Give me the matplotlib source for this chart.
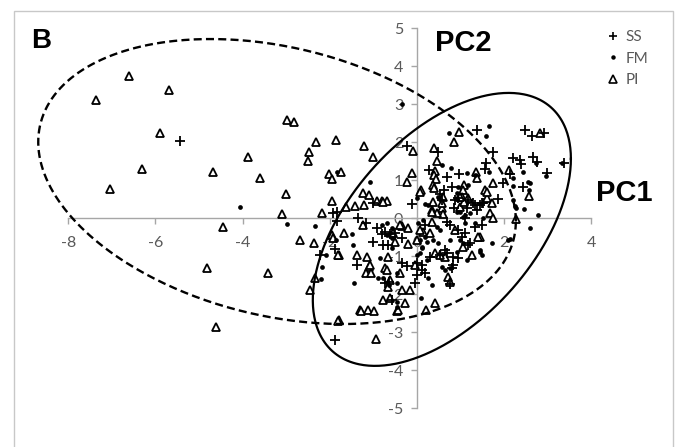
import numpy as np
import matplotlib
matplotlib.use("Agg")
import matplotlib.pyplot as plt
from matplotlib.lines import Line2D
from matplotlib.patches import Rectangle

# PCA scores (PC1, PC2) for the three groups
ss_points = [
    [-5.44, 2.03], [-1.93, 0.14], [-1.01, 0.39], [-1.35, 0.00], [-1.88, -3.21],
    [-0.23, 1.89], [0.48, 1.74], [0.28, 1.26], [0.96, 1.16], [0.69, 1.08],
    [0.62, 0.74], [0.80, 0.82], [-0.11, 0.37], [0.57, 0.47], [0.87, 0.47],
    [0.85, 0.26], [1.38, 2.32], [2.48, 2.32], [2.64, 2.16], [2.91, 2.24],
    [1.74, 1.74], [1.58, 1.45], [1.56, 1.29], [2.20, 1.58], [2.36, 1.53],
    [2.39, 1.42], [2.66, 1.61], [2.75, 1.47], [3.37, 1.45], [2.13, 1.16],
    [2.98, 1.18], [2.43, 0.82], [1.97, 0.92], [1.86, 0.50], [1.49, 0.39],
    [1.33, 0.34], [1.38, 0.21], [-1.88, -0.82], [-1.38, -1.24], [-1.01, -0.63],
    [-2.22, -0.97], [-1.83, -0.08], [-1.17, -0.13], [-0.92, -0.26], [-0.73, -0.37],
    [-0.78, -0.71], [-0.73, -1.71], [-0.57, -2.16], [-0.80, -0.42], [-0.62, -0.42],
    [-0.50, -0.39], [-0.34, -1.18], [-0.23, -1.26], [-0.64, -1.68], [0.00, -1.18],
    [0.11, -1.37], [0.00, -1.50], [0.18, -1.45], [-0.05, -1.71], [0.30, -1.03],
    [0.53, -0.97], [0.69, -0.92], [0.83, -1.03], [0.80, -1.32], [0.76, -1.74],
    [0.18, -0.18], [0.69, -0.11], [0.76, -0.18], [0.64, -0.84], [0.11, -1.24],
    [0.83, -1.24], [1.03, -0.50], [1.17, -0.71], [0.53, 0.63], [-0.34, -0.53],
    [-0.66, -0.71], [0.94, 0.53], [1.17, 0.47], [1.28, 0.39], [1.51, 0.39],
    [1.44, 0.34], [1.15, 0.26], [1.33, -0.24], [1.49, -0.18], [0.94, -0.32],
    [1.10, -0.39], [1.22, -0.66], [0.94, -1.05], [1.10, 0.00], [-1.83, 0.16],
]

fm_points = [
    [-4.06, 0.29], [-1.83, 1.21], [-1.08, 0.95], [-2.98, -0.16], [-2.34, -0.21],
    [-2.09, -0.97], [-2.18, -1.29], [-2.20, -1.60], [-0.34, 3.00], [0.73, 2.24],
    [0.57, 1.39], [0.78, 1.32], [1.15, 1.18], [1.65, 2.42], [1.58, 2.16],
    [1.65, 1.21], [2.73, 1.45], [3.33, 1.45], [2.43, 1.21], [2.96, 1.11],
    [2.55, 0.95], [2.59, 0.92], [2.20, 0.84], [2.57, 0.74], [2.78, 0.08],
    [2.20, 0.47], [2.25, 0.32], [2.27, 0.26], [0.18, 0.37], [0.25, 0.34],
    [0.00, 0.53], [-1.49, -0.42], [-1.47, -0.71], [-1.86, -0.58], [-1.44, -1.71],
    [-0.80, -0.18], [-0.57, -0.26], [-0.62, -0.39], [-0.57, -0.53], [-0.85, -1.05],
    [-0.89, -1.58], [-0.78, -1.58], [0.09, -2.11], [0.34, -1.76], [1.44, -0.84],
    [1.49, -0.97], [1.72, -0.66], [2.13, -0.55], [2.59, -0.26], [-0.46, -2.21],
    [-0.46, -2.34], [-0.69, -0.13], [0.18, -0.50], [0.11, -0.79], [0.23, -0.63],
    [0.07, -0.92], [0.57, -1.29], [0.64, -1.37], [0.76, -1.32], [0.25, -1.58],
    [-0.46, -1.45], [-0.64, -1.76], [-0.46, -1.71], [0.48, 0.55], [0.92, 0.16],
    [1.06, 0.03], [1.10, -0.13], [0.14, -0.05], [0.02, -0.13], [0.46, -0.24],
    [0.53, -0.32], [0.37, -0.58], [0.48, -0.66], [0.07, -0.58], [0.11, -0.76],
    [0.76, -0.58], [0.92, -0.89], [-0.69, -0.45], [-0.57, -0.79], [0.00, -0.97],
    [0.23, -1.11], [1.15, -1.11], [0.99, 0.16], [1.10, 0.08], [1.22, 0.13],
    [1.51, 0.00], [1.33, -0.13], [2.09, -0.58], [0.99, -0.58], [1.06, -0.66],
    [1.44, -0.89], [0.92, 0.53], [1.33, 1.13], [0.94, 0.82], [0.92, 0.66],
    [1.17, 0.87], [2.20, 1.05], [2.45, 0.24],
]

pi_points = [
    [-6.61, 3.74], [-7.36, 3.11], [-5.69, 3.37], [-2.98, 2.58], [-2.82, 2.53],
    [-5.89, 2.24], [-2.32, 2.00], [-1.86, 2.05], [-2.48, 1.74], [-2.50, 1.50],
    [-3.88, 1.60], [-6.31, 1.29], [-4.68, 1.21], [-3.60, 1.06], [-7.04, 0.76],
    [-2.02, 1.16], [-1.95, 1.03], [-1.74, 1.21], [-3.00, 0.63], [-3.10, 0.11],
    [-2.18, 0.14], [-1.95, 0.45], [-4.45, -0.23], [-2.68, -0.58], [-2.36, -0.65],
    [-4.82, -1.32], [-3.42, -1.44], [-4.61, -2.86], [-2.34, -1.58], [-2.45, -1.89],
    [-1.22, 1.89], [-1.01, 1.61], [-1.24, 0.66], [-1.10, 0.61], [-1.63, 0.29],
    [-1.42, 0.32], [-1.22, 0.34], [-1.95, -0.45], [-1.67, -0.39], [-1.79, -0.97],
    [-1.38, -0.97], [-1.15, -1.03], [-1.10, -1.29], [-1.17, -1.45], [-1.06, -1.45],
    [-1.31, -2.42], [-1.12, -2.42], [-1.79, -2.68], [-1.24, -0.18], [-0.92, 0.45],
    [-0.80, 0.45], [-0.69, 0.45], [0.96, 2.26], [0.85, 2.00], [-0.09, 1.76],
    [0.39, 1.84], [0.46, 1.50], [0.41, 1.24], [0.39, 1.13], [0.44, 1.03],
    [-0.11, 1.18], [-0.23, 0.95], [0.37, 0.87], [0.39, 0.79], [1.08, 0.87],
    [1.06, 0.74], [0.09, 0.74], [0.60, 0.55], [1.03, 0.55], [1.17, 0.53],
    [0.37, 0.42], [0.34, 0.21], [0.57, 0.26], [0.60, 0.11], [0.99, 0.29],
    [1.08, 0.42], [0.46, 0.13], [2.82, 2.24], [1.35, 1.21], [1.38, 1.05],
    [2.11, 1.26], [2.57, 0.58], [1.74, 0.92], [1.56, 0.74], [1.61, 0.53],
    [1.72, 0.39], [1.67, 0.13], [-0.34, -0.21], [-0.21, -0.26], [-0.50, -0.63],
    [-0.21, -0.68], [-1.93, -0.53], [-1.81, -0.97], [-0.73, -1.32], [-1.08, -1.24],
    [-0.62, -1.63], [-0.67, -1.82], [-0.78, -2.16], [-0.62, -2.11], [-1.28, -2.45],
    [-0.99, -2.45], [-0.46, -2.45], [-0.27, -2.24], [0.21, -2.42], [0.41, -2.24],
    [-1.81, -2.71], [-0.94, -3.19], [0.71, -1.55], [0.76, -1.68], [1.26, -0.97],
    [1.06, -0.76], [1.44, -0.50], [2.26, -0.02], [-0.69, -1.37], [-0.39, -1.45],
    [-0.34, -1.90], [-0.16, -1.90], [-0.44, -2.42], [-0.66, -1.03], [-0.05, -1.24],
    [0.41, -0.92], [0.64, -1.03], [0.14, -0.37], [-0.78, 0.42], [0.07, 0.68],
    [0.34, 0.16], [0.57, 0.39], [0.99, 0.55], [0.34, -0.11], [-0.39, -0.18],
    [0.00, -0.58], [0.07, -0.32], [-0.55, -0.39], [0.30, -0.39], [0.87, -0.32],
    [0.53, -0.97], [1.61, 0.68], [1.74, 0.00], [1.40, -0.50],
]

group_labels = ["SS", "FM", "PI"]

# Confidence ellipses: centre and covariance-like shape matrix (PC1, PC2)
pi_ellipse_center = [-3.21, 0.96]
pi_ellipse_shape = [[30.0, -5.7], [-5.7, 14.06]]
ssfm_ellipse_center = [0.57, -0.30]
ssfm_ellipse_shape = [[8.76, 5.5], [5.5, 12.9]]

x_ticks = [-8, -6, -4, -2, 0, 2, 4]
y_ticks = [-5, -4, -3, -2, -1, 0, 1, 2, 3, 4, 5]

W, H = 676, 447
fig = plt.figure(figsize=(W / 100, H / 100), dpi=100)
fig.patch.set_facecolor("white")

# outer chart frame
fig.patches.append(Rectangle((14 / W, -0.05), (673 - 14) / W, 1.05 - 11 / H,
                             transform=fig.transFigure, fill=False,
                             edgecolor="#c8c8c8", linewidth=1.0))

ax = fig.add_axes([0, 0, 1, 1])
ax.set_facecolor("none")
ax.set_xlim(-417 / 43.6, (W - 417) / 43.6)
ax.set_ylim((218 - H) / 38.0, 218 / 38.0)

axis_grey = "#a6a6a6"
label_grey = "#595959"
for side in ("top", "right"):
    ax.spines[side].set_visible(False)
ax.spines["left"].set_position(("data", 0))
ax.spines["bottom"].set_position(("data", 0))
ax.spines["left"].set_bounds(-5, 5)
ax.spines["bottom"].set_bounds(-8, 4)
for side in ("left", "bottom"):
    ax.spines[side].set_color(axis_grey)
    ax.spines[side].set_linewidth(1.0)

ax.set_xticks(x_ticks)
ax.set_yticks(y_ticks)
ax.set_xticklabels([str(t) for t in x_ticks])
ax.set_yticklabels([str(t) for t in y_ticks])
ax.tick_params(axis="x", direction="out", length=4, width=1, color=axis_grey,
               pad=9, labelsize=11.5, labelcolor=label_grey)
ax.tick_params(axis="y", direction="out", length=4, width=1, color=axis_grey,
               pad=6, labelsize=11.5, labelcolor=label_grey)
for lab in ax.get_xticklabels() + ax.get_yticklabels():
    lab.set_fontfamily("Lato")

ss = np.array(ss_points)
fm = np.array(fm_points)
pi = np.array(pi_points)

ax.plot(pi[:, 0], pi[:, 1], linestyle="none", marker="^", ms=6.4,
        mfc="white", mec="black", mew=1.3, zorder=3, clip_on=False)
ax.plot(ss[:, 0], ss[:, 1], linestyle="none", marker="+", ms=6.5,
        mec="black", mew=1.3, zorder=4, clip_on=False)
ax.plot(fm[:, 0], fm[:, 1], linestyle="none", marker="o", ms=3.4,
        mfc="black", mec="black", mew=0, zorder=4, clip_on=False)


def ellipse_path(center, shape, n=400):
    t = np.linspace(0, 2 * np.pi, n)
    L = np.linalg.cholesky(np.array(shape))
    pts = L @ np.vstack([np.cos(t), np.sin(t)])
    return center[0] + pts[0], center[1] + pts[1]


ex, ey = ellipse_path(pi_ellipse_center, pi_ellipse_shape)
ax.plot(ex, ey, color="black", lw=1.7, linestyle=(0, (3.4, 1.8)), zorder=5,
        clip_on=False)
ex, ey = ellipse_path(ssfm_ellipse_center, ssfm_ellipse_shape)
ax.plot(ex, ey, color="black", lw=1.6, linestyle="-", zorder=5, clip_on=False)

# legend
handles = [
    Line2D([], [], linestyle="none", marker="+", ms=5.5, mec="black", mew=1.2),
    Line2D([], [], linestyle="none", marker="o", ms=3.2, mfc="black", mec="black", mew=0),
    Line2D([], [], linestyle="none", marker="^", ms=5.5, mfc="white", mec="black", mew=1.2),
]
leg = ax.legend(handles, group_labels, loc="upper left",
                bbox_to_anchor=(607 / W, 1 - 30 / H), bbox_transform=fig.transFigure,
                frameon=False, borderpad=0, borderaxespad=0, handlelength=0.8,
                handletextpad=0.4, labelspacing=0.5,
                prop={"family": "Lato", "size": 11})
for txt in leg.get_texts():
    txt.set_color(label_grey)

# panel letter and axis titles
fig.text(31 / W, 1 - 41 / H, "B", fontsize=20, fontweight="bold",
         family="Liberation Sans", ha="left", va="center")
fig.text(435 / W, 1 - 43 / H, "PC2", fontsize=21, fontweight="bold",
         family="Liberation Sans", ha="left", va="center")
fig.text(596 / W, 1 - 193 / H, "PC1", fontsize=21, fontweight="bold",
         family="Liberation Sans", ha="left", va="center")

fig.savefig("out.png", dpi=100, facecolor="white")
